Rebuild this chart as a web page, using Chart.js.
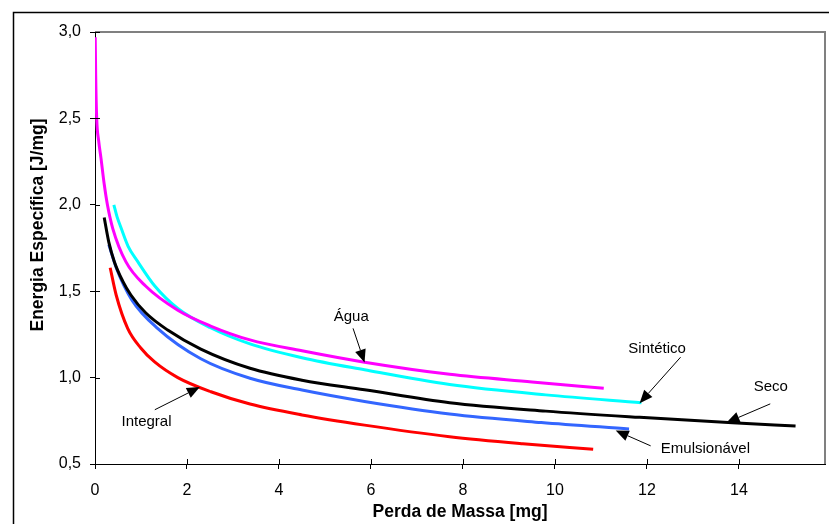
<!DOCTYPE html>
<html>
<head>
<meta charset="utf-8">
<script src="https://cdn.jsdelivr.net/npm/chart.js@4.4.1/dist/chart.umd.min.js"></script>
<style>
  html, body { margin: 0; padding: 0; background: #fff; }
  #wrap { width: 829px; height: 524px; position: relative; }
</style>
</head>
<body>
<div id="wrap"><canvas id="chart" width="829" height="524"></canvas></div>
<script>
// ─── Data ─────────────────────────────────────────────────────────────────────
const secoX   = [0.20, 0.30, 0.42, 0.60, 0.78, 1.1, 1.58, 2.3, 3.37, 4.5, 5.86, 7.71, 9.8, 11.84, 13.86, 15.23];
const secoY   = [1.926, 1.784, 1.671, 1.56, 1.478, 1.375, 1.275, 1.165, 1.054, 0.985, 0.930, 0.855, 0.806, 0.770, 0.739, 0.72];

const aguaX   = [0.005, 0.015, 0.037, 0.08, 0.13, 0.20, 0.27, 0.385, 0.67, 1.1, 1.8, 2.5, 3.37, 4.5, 5.86, 7.71, 9.5, 11.06];
const aguaY   = [2.97, 2.75, 2.50, 2.37, 2.27, 2.12, 2.00, 1.864, 1.671, 1.53, 1.39, 1.30, 1.218, 1.155, 1.089, 1.019, 0.975, 0.938];

const sintX   = [0.41, 0.48, 0.57, 0.72, 0.93, 1.3, 1.8, 2.5, 3.37, 4.5, 5.86, 7.71, 9.8, 11.88];
const sintY   = [2.00, 1.93, 1.864, 1.76, 1.671, 1.53, 1.40, 1.29, 1.195, 1.115, 1.045, 0.96, 0.90, 0.855];

const emulX   = [0.30, 0.47, 0.8, 1.36, 2.3, 3.37, 4.5, 5.86, 7.71, 9.7, 11.61];
const emulY   = [1.77, 1.63, 1.45, 1.285, 1.109, 0.996, 0.928, 0.862, 0.789, 0.740, 0.703];

const integX  = [0.33, 0.46, 0.71, 1.0, 1.29, 1.8, 2.52, 3.37, 4.5, 5.86, 7.71, 9.3, 10.83];
const integY  = [1.636, 1.478, 1.285, 1.17, 1.092, 1.0, 0.918, 0.847, 0.784, 0.725, 0.658, 0.617, 0.585];

// labels with arrows: [text, labelX, labelY, tailX, tailY, tipX, tipY] in data units
const notes = [
  ["Água",         5.57, 1.35,  5.61, 1.285, 5.86, 1.087],
  ["Sintético",   12.22, 1.165, 12.73, 1.118, 11.84, 0.852],
  ["Seco",        14.69, 0.945, 14.68, 0.848, 13.73, 0.740],
  ["Emulsionável",13.27, 0.586, 12.08, 0.605, 11.32, 0.694],
  ["Integral",     1.12, 0.746,  1.30, 0.814,  2.28, 0.945]
];

const xMax = 15.87;
const FONT = "'Liberation Sans', Arial, sans-serif";

const pts = (xs, ys) => xs.map((x, i) => ({ x, y: ys[i] }));

function line(label, xs, ys, color) {
  return {
    label,
    data: pts(xs, ys),
    showLine: true,
    borderColor: color,
    backgroundColor: color,
    borderWidth: 3,
    pointRadius: 0,
    cubicInterpolationMode: "monotone"
  };
}

// ─── Extras: frame, inner tick marks, y title, arrows ─────────────────────────
const extras = {
  id: "extras",
  beforeDraw(chart) {
    const ctx = chart.ctx;
    ctx.save();
    ctx.fillStyle = "#fff";
    ctx.fillRect(0, 0, chart.width, chart.height);
    ctx.strokeStyle = "#000";
    ctx.lineWidth = 1.5;
    ctx.strokeRect(13.5, 12.5, 900, 600);
    ctx.restore();
  },
  afterDraw(chart) {
    const ctx = chart.ctx;
    const a = chart.chartArea;
    const xs = chart.scales.x, ys = chart.scales.y;
    ctx.save();

    // grey top/right border of the plot
    ctx.strokeStyle = "#808080";
    ctx.lineWidth = 2;
    ctx.beginPath();
    ctx.moveTo(a.left, a.top);
    ctx.lineTo(a.right, a.top);
    ctx.lineTo(a.right, a.bottom);
    ctx.stroke();

    // inside half of the tick marks
    ctx.strokeStyle = "#000";
    ctx.lineWidth = 1;
    ctx.beginPath();
    xs.ticks.forEach(t => {
      const px = Math.round(xs.getPixelForValue(t.value)) + 0.5;
      ctx.moveTo(px, a.bottom);
      ctx.lineTo(px, a.bottom - 5);
    });
    ys.ticks.forEach(t => {
      const py = Math.round(ys.getPixelForValue(t.value)) + 0.5;
      ctx.moveTo(a.left, py);
      ctx.lineTo(a.left + 5, py);
    });
    ctx.stroke();

    // y title
    ctx.fillStyle = "#000";
    ctx.font = "bold 17.5px " + FONT;
    ctx.textAlign = "center";
    ctx.textBaseline = "middle";
    ctx.translate(38, 225);
    ctx.rotate(-Math.PI / 2);
    ctx.fillText("Energia Específica [J/mg]", 0, 0);
    ctx.restore();

    // labels and arrows
    ctx.save();
    ctx.font = "15px " + FONT;
    ctx.textAlign = "center";
    ctx.textBaseline = "middle";
    ctx.fillStyle = "#000";
    ctx.strokeStyle = "#000";
    ctx.lineWidth = 1;
    notes.forEach(([txt, lx, ly, tx, ty, hx, hy]) => {
      ctx.fillText(txt, xs.getPixelForValue(lx), ys.getPixelForValue(ly));
      const x0 = xs.getPixelForValue(tx), y0 = ys.getPixelForValue(ty);
      const x1 = xs.getPixelForValue(hx), y1 = ys.getPixelForValue(hy);
      const ang = Math.atan2(y1 - y0, x1 - x0);
      const len = 13, half = 5.5;
      const bx = x1 - len * Math.cos(ang), by = y1 - len * Math.sin(ang);
      ctx.beginPath();
      ctx.moveTo(x0, y0);
      ctx.lineTo(bx, by);
      ctx.stroke();
      ctx.beginPath();
      ctx.moveTo(x1, y1);
      ctx.lineTo(bx + half * Math.sin(ang), by - half * Math.cos(ang));
      ctx.lineTo(bx - half * Math.sin(ang), by + half * Math.cos(ang));
      ctx.closePath();
      ctx.fill();
    });
    ctx.restore();
  }
};

// ─── Chart ────────────────────────────────────────────────────────────────────
new Chart(document.getElementById("chart"), {
  type: "scatter",
  data: {
    datasets: [
      line("Seco",         secoX,  secoY,  "#000000"),
      line("Água",         aguaX,  aguaY,  "#FF00FF"),
      line("Sintético",    sintX,  sintY,  "#00FFFF"),
      line("Emulsionável", emulX,  emulY,  "#3366FF"),
      line("Integral",     integX, integY, "#FF0000")
    ]
  },
  options: {
    responsive: false,
    animation: false,
    layout: { padding: { top: 32, right: 4, left: 0, bottom: 0 } },
    plugins: {
      legend: { display: false },
      tooltip: { enabled: false }
    },
    scales: {
      x: {
        type: "linear",
        min: 0,
        max: xMax,
        afterBuildTicks: s => { s.ticks = s.ticks.filter(t => t.value % 2 === 0); },
        afterFit: s => { s.height = 60; },
        ticks: { stepSize: 2, color: "#000", padding: 12, font: { family: FONT, size: 16 }, maxRotation: 0 },
        grid: { drawOnChartArea: false, drawTicks: true, tickLength: 5, color: "#000" },
        border: { color: "#000", width: 1 },
        title: { display: true, text: "Perda de Massa [mg]", color: "#000",
                 font: { family: FONT, size: 17.5, weight: "bold" }, padding: { top: 0, bottom: 1 } }
      },
      y: {
        min: 0.5,
        max: 3.0,
        afterFit: s => { s.width = 95; },
        ticks: { stepSize: 0.5, color: "#000", padding: 9, font: { family: FONT, size: 16 },
                 callback: v => v.toFixed(1).replace(".", ",") },
        grid: { drawOnChartArea: false, drawTicks: true, tickLength: 5, color: "#000" },
        border: { color: "#000", width: 1 }
      }
    }
  },
  plugins: [extras]
});
</script>
</body>
</html>
